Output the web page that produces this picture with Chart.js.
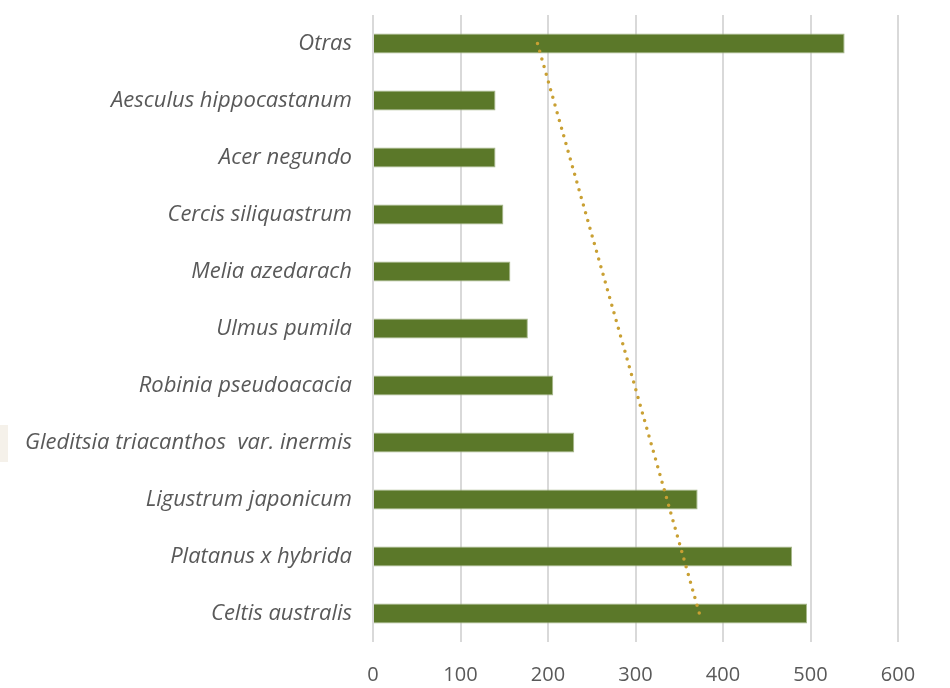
<!DOCTYPE html>
<html>
<head>
<meta charset="utf-8">
<script src="https://cdn.jsdelivr.net/npm/chart.js@4/dist/chart.umd.min.js"></script>
<style>
  html, body { margin: 0; padding: 0; background: #fff; }
  #wrap { position: relative; width: 950px; height: 688px; }
  #marca { position: absolute; left: 0; top: 425px; width: 8px; height: 37px; background: #f5f1ea; }
</style>
</head>
<body>
<div id="wrap">
  <div id="marca"></div>
  <canvas id="diagrama" width="950" height="688"></canvas>
</div>
<script>
const especies = ["Otras", "Aesculus hippocastanum", "Acer negundo", "Cercis siliquastrum",
  "Melia azedarach", "Ulmus pumila", "Robinia pseudoacacia",
  "Gleditsia triacanthos  var. inermis", "Ligustrum japonicum", "Platanus x hybrida",
  "Celtis australis"];
const cantidades = [539, 140, 140, 149, 157, 177, 206, 230, 371, 479, 496];
// linea de tendencia: solo los extremos
const tendencia = [188, null, null, null, null, null, null, null, null, null, 373];
const marcasX = [0, 100, 200, 300, 400, 500, 600];

const gris = "#595959";

new Chart("diagrama", {
  data: {
    labels: especies,
    datasets: [{
      type: "line",
      data: tendencia,
      spanGaps: true,
      borderColor: "#c9a033",
      borderWidth: 3.5,
      borderDash: [0, 8],
      borderCapStyle: "round",
      pointRadius: 0,
      fill: false
    }, {
      type: "bar",
      data: cantidades,
      backgroundColor: "#5b7829",
      borderColor: "#a8b98c",
      borderWidth: 1,
      barPercentage: 0.35,
      categoryPercentage: 1
    }]
  },
  options: {
    indexAxis: "y",
    responsive: false,
    animation: false,
    layout: { padding: { top: 15, right: 52, bottom: 0, left: 0 } },
    plugins: { legend: { display: false }, tooltip: { enabled: false } },
    scales: {
      x: {
        min: 0,
        max: 600,
        afterBuildTicks: (s) => { s.ticks = marcasX.map(v => ({ value: v })); },
        grid: { color: "#d9d9d9", lineWidth: 2, drawTicks: false },
        border: { display: false },
        ticks: { color: gris, padding: 21, font: { family: "Open Sans", size: 20 } },
        afterFit: (s) => { s.height = 46; }
      },
      y: {
        grid: { display: false },
        border: { display: false },
        ticks: { color: gris, padding: 13, font: { family: "Open Sans", size: 22, style: "italic" } },
        afterFit: (s) => { s.width = 373; s.paddingTop = 0; s.paddingBottom = 0; }
      }
    }
  }
});
</script>
</body>
</html>
